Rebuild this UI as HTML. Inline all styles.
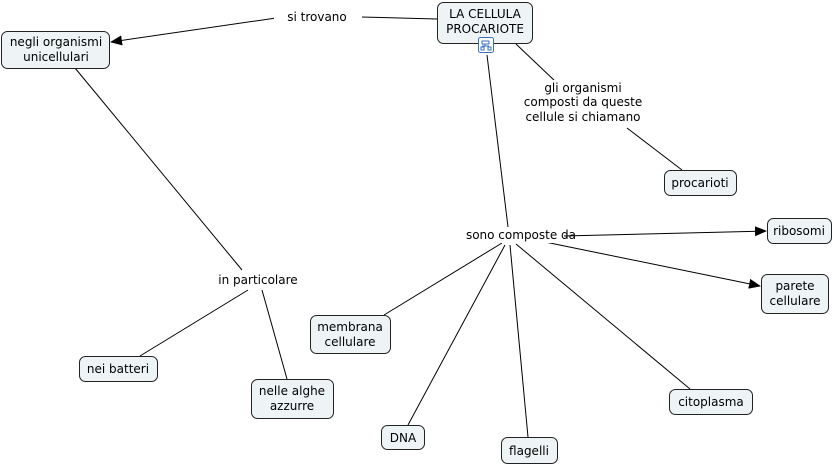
<!DOCTYPE html>
<html><head><meta charset="utf-8"><style>
body{margin:0;background:#fff;}
svg{display:block;font-family:"DejaVu Sans","Liberation Sans",sans-serif;font-size:12px;}
.n{fill:#eef3f5;stroke:#222;stroke-width:1;}
.l{stroke:#000;stroke-width:1;fill:none;}
text{fill:#000;text-anchor:middle;}
</style></head><body>
<svg width="836" height="467" viewBox="0 0 836 467">
<defs><marker id="a" markerWidth="12" markerHeight="10" refX="11" refY="5" orient="auto" markerUnits="userSpaceOnUse"><path d="M0,0 L12,5 L0,10 z" fill="#000"/></marker></defs>
<g class="l">
<line x1="437" y1="19" x2="361" y2="17"/>
<line x1="276" y1="18" x2="111" y2="42" marker-end="url(#a)"/>
<line x1="516" y1="44" x2="556" y2="82"/>
<line x1="627" y1="128" x2="682" y2="170"/>
<line x1="487" y1="55" x2="508" y2="227"/>
<line x1="563" y1="236" x2="766" y2="231" marker-end="url(#a)"/>
<line x1="545" y1="242" x2="760" y2="286" marker-end="url(#a)"/>
<line x1="502" y1="243" x2="384" y2="315"/>
<line x1="505" y1="245" x2="408" y2="425"/>
<line x1="510" y1="245" x2="528" y2="437"/>
<line x1="516" y1="244" x2="690" y2="389"/>
<line x1="75" y1="68" x2="242" y2="270"/>
<line x1="248" y1="290" x2="140" y2="356"/>
<line x1="262" y1="290" x2="287" y2="379"/>
</g>
<rect x="274" y="9" width="88" height="17" fill="#fff"/>
<text x="317" y="21">si trovano</text>
<rect x="527" y="80" width="112" height="46" fill="#fff"/>
<text x="583" y="92">gli organismi</text>
<text x="583" y="106">composti da queste</text>
<text x="583" y="121">cellule si chiamano</text>
<rect x="478" y="227" width="86" height="16" fill="#fff"/>
<text x="521" y="239">sono composte da</text>
<rect x="215" y="272" width="86" height="16" fill="#fff"/>
<text x="258" y="284">in particolare</text>

<rect class="n" x="437.5" y="2.5" width="95" height="41" rx="6"/>
<text x="485" y="18">LA CELLULA</text><text x="485" y="33">PROCARIOTE</text>
<rect x="478.5" y="37.5" width="15" height="15" rx="2" fill="#fff" stroke="#3a6fc4"/>
<path d="M482 41h7v3h-7zM481 47h3v3h-3zM488 47h3v3h-3zM485 44v2M482 46h7" stroke="#3a6fc4" fill="none" stroke-width="1"/>
<rect class="n" x="1.5" y="31.5" width="108" height="37" rx="6"/>
<text x="56" y="46">negli organismi</text><text x="56" y="61">unicellulari</text>
<rect class="n" x="664.5" y="170.5" width="72" height="25" rx="6"/><text x="700" y="187">procarioti</text>
<rect class="n" x="767.5" y="218.5" width="64" height="25" rx="6"/><text x="799" y="235">ribosomi</text>
<rect class="n" x="761.5" y="274.5" width="67" height="39" rx="6"/><text x="795" y="290">parete</text><text x="795" y="305">cellulare</text>
<rect class="n" x="310.5" y="315.5" width="80" height="38" rx="6"/><text x="350" y="331">membrana</text><text x="350" y="346">cellulare</text>
<rect class="n" x="79.5" y="356.5" width="78" height="25" rx="6"/><text x="118" y="373">nei batteri</text>
<rect class="n" x="251.5" y="379.5" width="82" height="39" rx="6"/><text x="292" y="395">nelle alghe</text><text x="292" y="410">azzurre</text>
<rect class="n" x="381.5" y="425.5" width="43" height="24" rx="6"/><text x="403" y="442">DNA</text>
<rect class="n" x="501.5" y="437.5" width="56" height="26" rx="6"/><text x="529" y="455">flagelli</text>
<rect class="n" x="669.5" y="389.5" width="83" height="25" rx="6"/><text x="711" y="406">citoplasma</text>
</svg>
</body></html>
